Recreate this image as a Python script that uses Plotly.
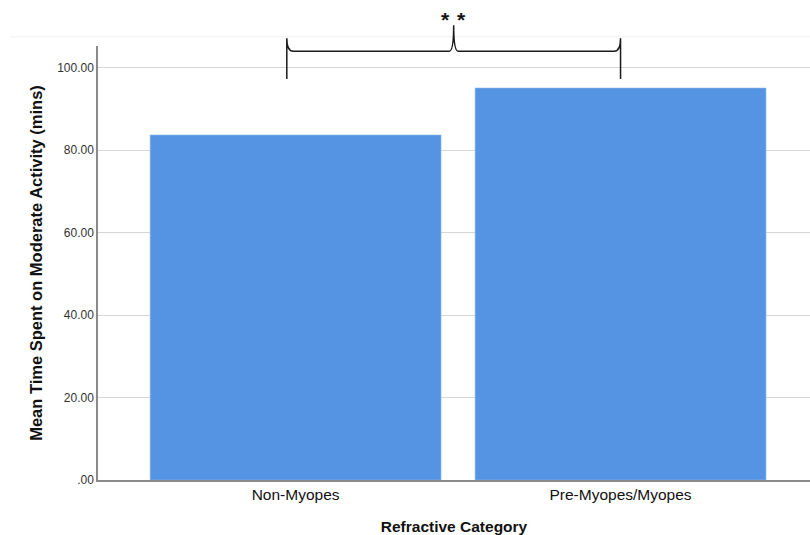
import plotly.graph_objects as go

# Mean minutes of moderate activity by refractive group
categories = ["Non-Myopes", "Pre-Myopes/Myopes"]
mean_minutes = [83.7, 95.1]
y_ticks = [0, 20, 40, 60, 80, 100]
y_tick_labels = [".00", "20.00", "40.00", "60.00", "80.00", "100.00"]

BAR_COLOR = "#5594E3"
FONT = "Liberation Sans, Arial, sans-serif"

fig = go.Figure(
    go.Bar(
        x=categories,
        y=mean_minutes,
        marker=dict(color=BAR_COLOR, line=dict(color="#8db6ee", width=0.6)),
        hoverinfo="x+y",
    )
)

# Significance bracket between the two groups (x in category units)
xl, xr, xm = -0.027, 1.0, 0.4865
r = 0.02          # corner radius, category units
rt = 0.014        # radius at the central peak
y_end, y_bar, y_peak = 0.924, 0.988, 1.048   # paper units
path = (
    f"M {xl},{y_end} L {xl},{y_bar + 0.03} Q {xl},{y_bar} {xl + r},{y_bar} "
    f"L {xm - rt},{y_bar} Q {xm},{y_bar} {xm},{y_peak} "
    f"Q {xm},{y_bar} {xm + rt},{y_bar} "
    f"L {xr - r},{y_bar} Q {xr},{y_bar} {xr},{y_bar + 0.03} L {xr},{y_end}"
)

# Two stars marking significance, one on each side of the bracket peak
stars = [
    dict(
        x=xm, xref="x", y=1.093, yref="paper", xshift=shift,
        text="<b>*</b>", showarrow=False,
        font=dict(size=21, color="#111"),
        yanchor="top",
    )
    for shift in (-8, 8)
]

fig.update_layout(
    width=810,
    height=535,
    margin=dict(l=98, r=0, t=46, b=55),
    paper_bgcolor="white",
    plot_bgcolor="white",
    bargap=0.105,
    showlegend=False,
    font=dict(family=FONT, color="#222"),
    xaxis=dict(
        type="category",
        range=[-0.608, 1.583],
        showgrid=False,
        showline=True,
        linecolor="#8a8a8a",
        linewidth=1.5,
        ticks="",
        tickfont=dict(size=15.5, color="#111"),
        title=dict(
            text="<b>Refractive Category</b>",
            font=dict(size=15.5, color="#111"),
            standoff=19,
        ),
    ),
    yaxis=dict(
        range=[0, 105.3],
        tickvals=y_ticks,
        ticktext=y_tick_labels,
        tickfont=dict(size=12, color="#333"),
        showgrid=True,
        gridcolor="#d6d6d6",
        gridwidth=1,
        zeroline=False,
        showline=True,
        linecolor="#8a8a8a",
        linewidth=1.5,
        ticks="",
        ticklen=0,
        title=dict(
            text="<b>Mean Time Spent on Moderate Activity (mins)</b>",
            font=dict(size=16.5, color="#111"),
            standoff=10,
        ),
    ),
    shapes=[
        dict(
            type="line", xref="paper", yref="paper",
            x0=-0.124, x1=1.0, y0=1.021, y1=1.021,
            line=dict(color="#f1f1f1", width=1),
        ),
        dict(
            type="path", xref="x", yref="paper", path=path,
            line=dict(color="#1a1a1a", width=1.5),
        ),
    ],
    annotations=stars,
)

fig.write_html("out.html")
